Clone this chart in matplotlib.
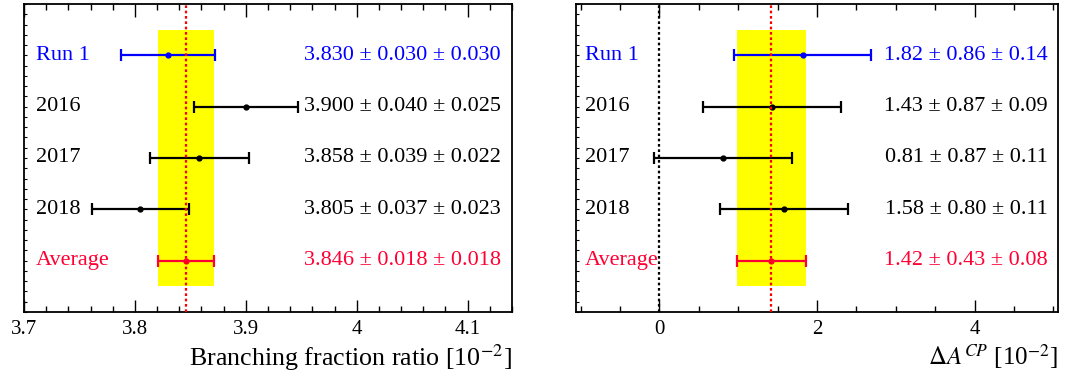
import numpy as np
import matplotlib
matplotlib.use("Agg")
import matplotlib.pyplot as plt
from matplotlib.ticker import MultipleLocator

labels = ["Run 1", "2016", "2017", "2018", "Average"]
colors = ["#0000FF", "black", "black", "black", "#FF0033"]

bf_val = [3.830, 3.900, 3.858, 3.805, 3.846]
bf_stat = [0.030, 0.040, 0.039, 0.037, 0.018]
bf_syst = [0.030, 0.025, 0.022, 0.023, 0.018]
bf_text = ["3.830 ± 0.030 ± 0.030", "3.900 ± 0.040 ± 0.025",
           "3.858 ± 0.039 ± 0.022", "3.805 ± 0.037 ± 0.023",
           "3.846 ± 0.018 ± 0.018"]

acp_val = [1.82, 1.43, 0.81, 1.58, 1.42]
acp_stat = [0.86, 0.87, 0.87, 0.80, 0.43]
acp_syst = [0.14, 0.09, 0.11, 0.11, 0.08]
acp_text = ["1.82 ± 0.86 ± 0.14", "1.43 ± 0.87 ± 0.09",
            "0.81 ± 0.87 ± 0.11", "1.58 ± 0.80 ± 0.11",
            "1.42 ± 0.43 ± 0.08"]

plt.rcParams['font.family'] = ['Liberation Serif', 'DejaVu Serif']
plt.rcParams['mathtext.fontset'] = 'stix'

fig = plt.figure(figsize=(10.68, 3.74), dpi=100)
W, H = 1068, 374
axL = fig.add_axes([24 / W, 1 - 312 / H, (512 - 24) / W, (312 - 4) / H])
axR = fig.add_axes([576 / W, 1 - 312 / H, (1058 - 576) / W, (312 - 4) / H])

ypos = [5, 4, 3, 2, 1]


def draw(ax, vals, stat, syst, texts, xlim, major, minor, label_x, text_x, xlabel, xlsize, zero_line):
    ax.set_xlim(*xlim)
    ax.set_ylim(0, 6)
    err = np.sqrt(np.array(stat) ** 2 + np.array(syst) ** 2)
    avg = vals[-1]
    aerr = err[-1]
    ax.axvspan(avg - aerr, avg + aerr, ymin=0.5 / 6, ymax=5.5 / 6, color="#FFFF00", lw=0, zorder=1)
    if zero_line:
        ax.axvline(0, color="black", ls=(0, (1.2, 1.2)), lw=1.6, zorder=2)
    for i, y in enumerate(ypos):
        ax.errorbar(vals[i], y, xerr=err[i], fmt='o', color=colors[i], ms=3.5,
                    elinewidth=1.6, capsize=4, capthick=1.6, zorder=3)
        ax.text(label_x, y, labels[i], color=colors[i], fontsize=16,
                ha='left', va='center')
        ax.text(text_x, y, texts[i], color=colors[i], fontsize=16, ha='right', va='center')
    ax.axvline(avg, color="#FF0000", ls=(0, (1.2, 1.2)), lw=1.6, zorder=4)
    ax.xaxis.set_major_locator(MultipleLocator(major))
    ax.xaxis.set_minor_locator(MultipleLocator(minor))
    ax.yaxis.set_major_locator(MultipleLocator(1))
    ax.yaxis.set_minor_locator(MultipleLocator(0.2))
    ax.tick_params(axis='x', which='major', direction='in', top=True, length=9, width=1, labelsize=15, pad=6)
    ax.tick_params(axis='x', which='minor', direction='in', top=True, length=4.5, width=1)
    ax.tick_params(axis='y', which='both', direction='in', length=2, width=0.8, labelleft=False)
    for s in ax.spines.values():
        s.set_linewidth(1.3)
    ax.set_xlabel(xlabel, fontsize=xlsize, loc='right', labelpad=2)


draw(axL, bf_val, bf_stat, bf_syst, bf_text, (3.7, 4.14), 0.1, 0.02,
     3.7105, 4.130, r"Branching fraction ratio [10$^{-2}$]", 18.7, False)
axL.set_xticks([3.7, 3.8, 3.9, 4.0, 4.1])
axL.set_xticklabels(["3.7", "3.8", "3.9", "4", "4.1"])

draw(axR, acp_val, acp_stat, acp_syst, acp_text, (-1.06, 5.06), 2, 0.5,
     -0.95, 4.93, r"$\Delta A^{CP}$ [10$^{-2}$]", 18, True)
axR.set_xticks([0, 2, 4])
axR.set_xticklabels(["0", "2", "4"])

fig.savefig("out.png", dpi=100)
